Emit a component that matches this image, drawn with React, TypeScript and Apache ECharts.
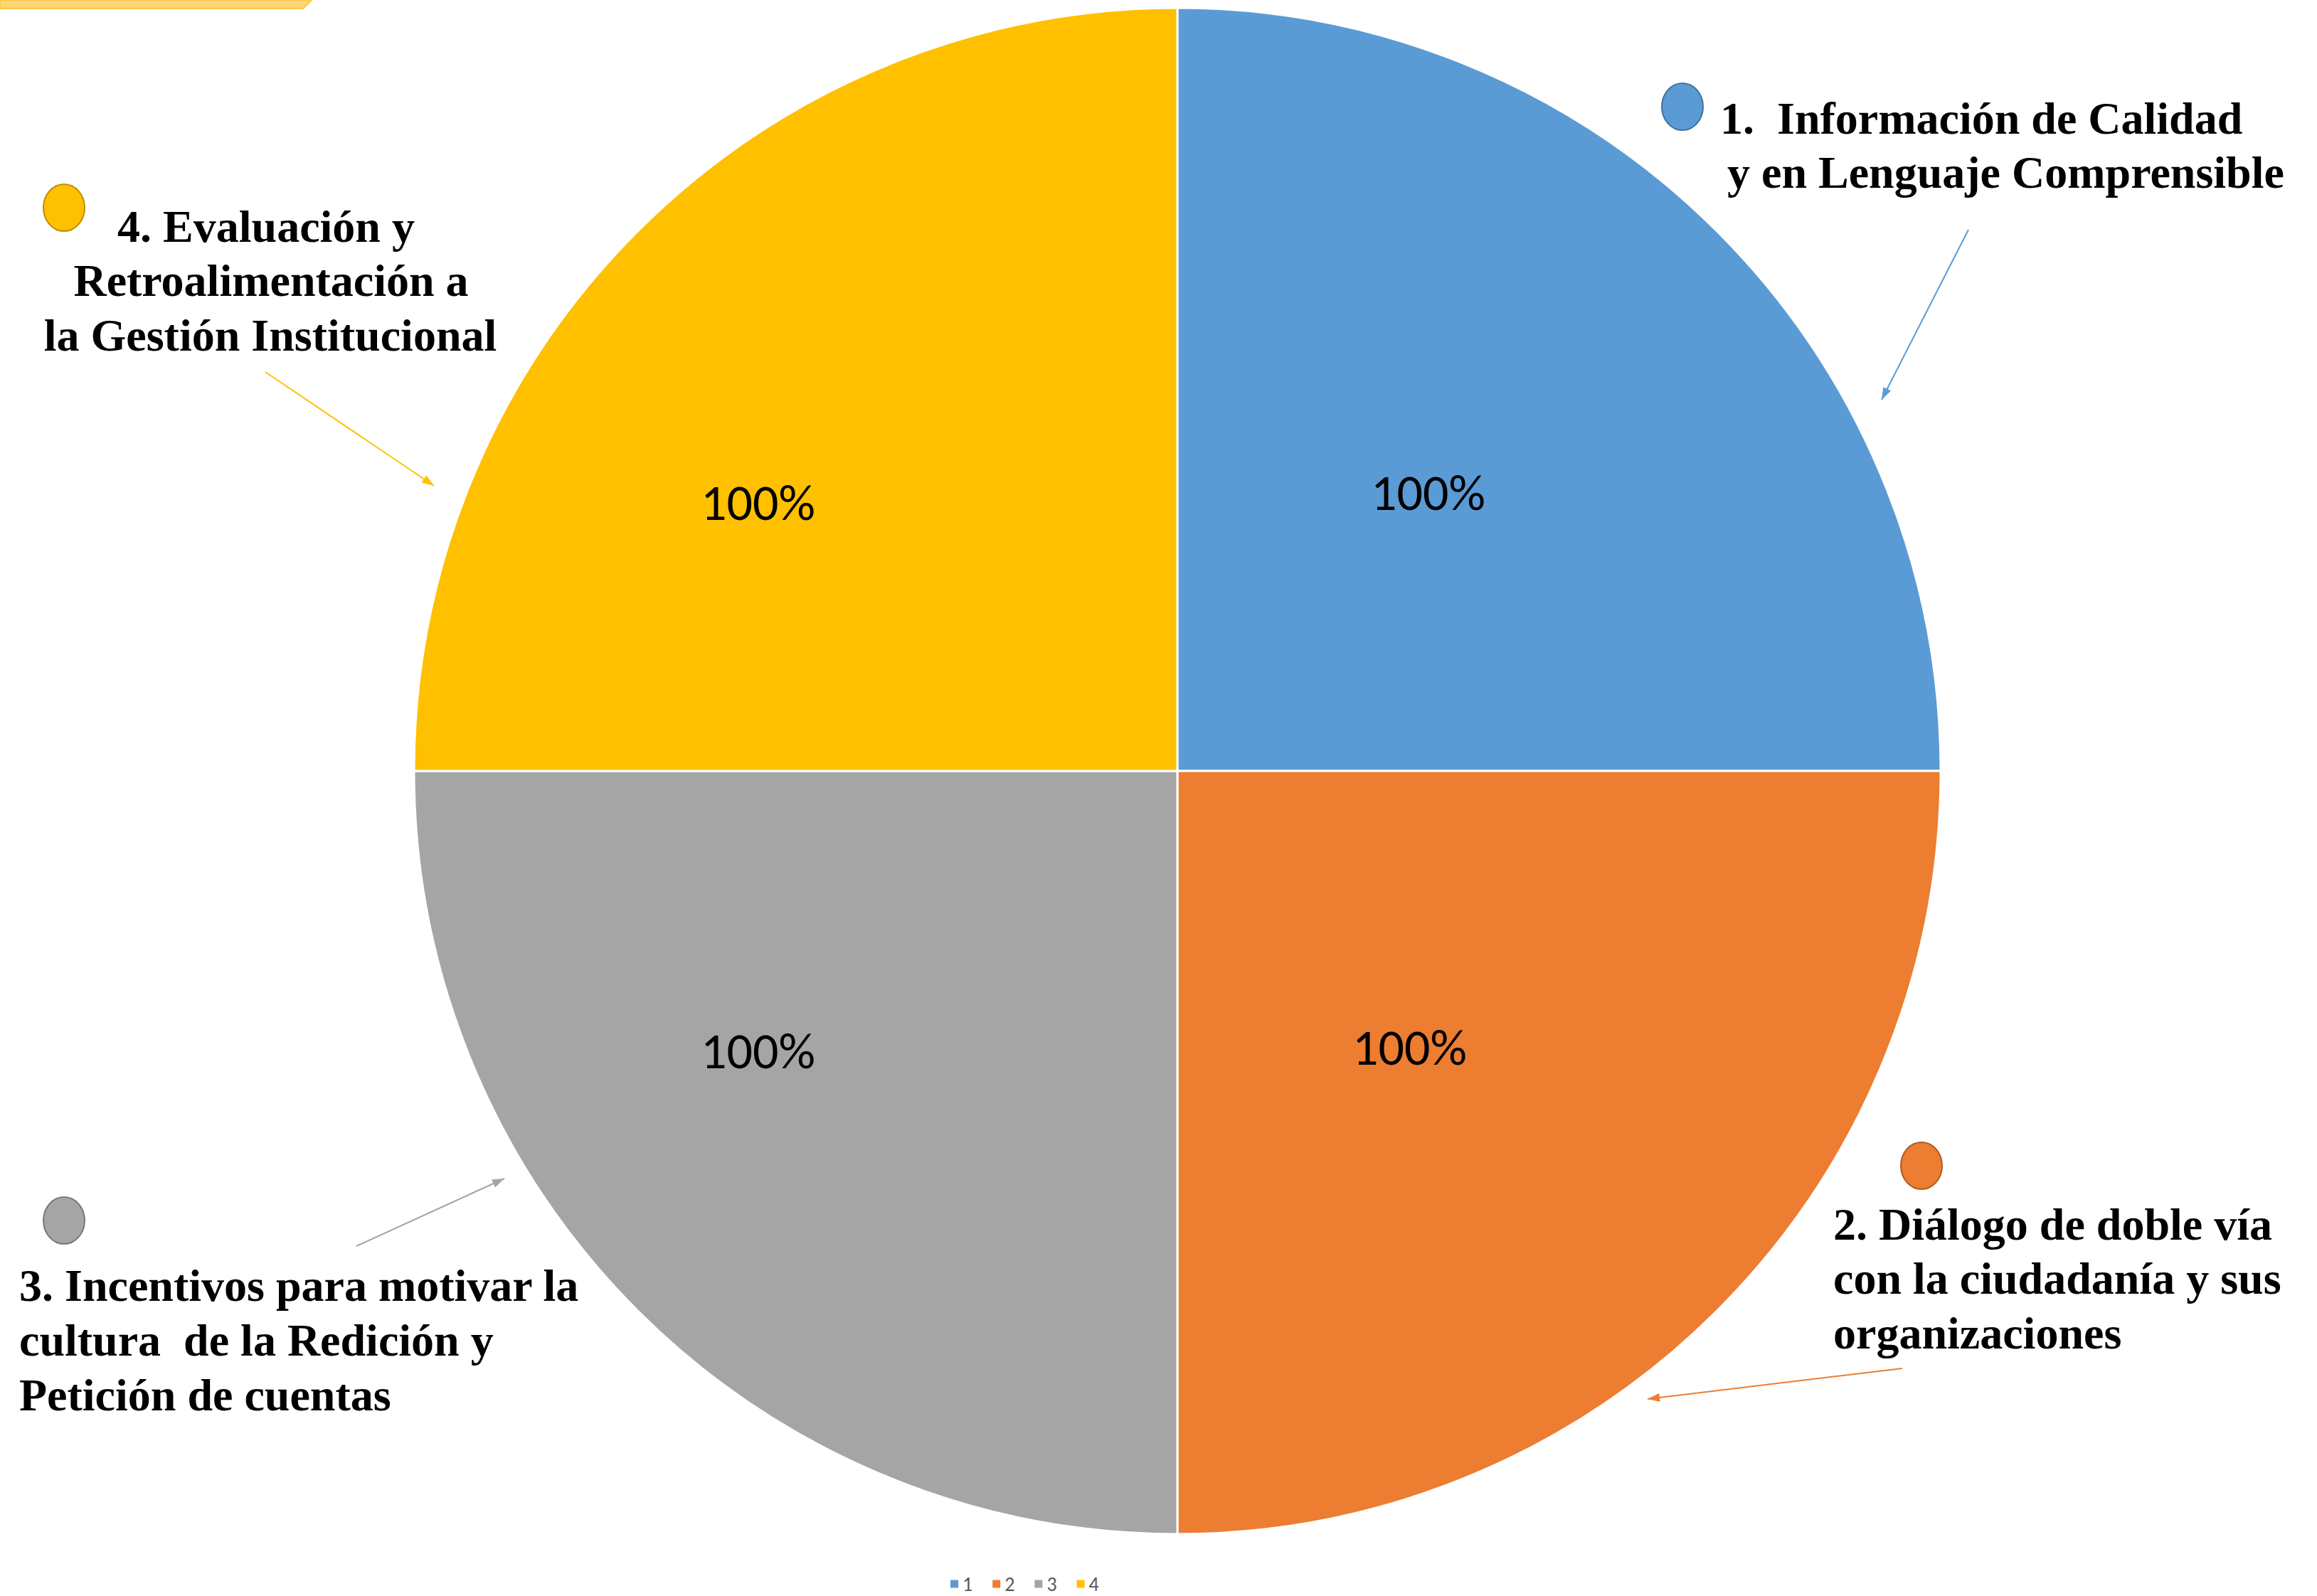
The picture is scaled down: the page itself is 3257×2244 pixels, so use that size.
import React, { useEffect, useRef } from "react";
import * as echarts from "echarts";

// ---- data ----
const categories = ["1", "2", "3", "4"];
const values = [100, 100, 100, 100];
const sliceColors = ["#5B9BD5", "#ED7D31", "#A5A5A5", "#FFC000"];
const annotationLines = [
  ["1.  Información de Calidad", "y en Lenguaje Comprensible"],
  ["2. Diálogo de doble vía", "con la ciudadanía y sus", "organizaciones"],
  ["3. Incentivos para motivar la", "cultura  de la Redición y", "Petición de cuentas"],
  ["4. Evaluación y", "Retroalimentación a", "la Gestión Institucional"],
];

// ---- layout (positions/sizes) ----
const W = 3257;
const H = 2244;
const CX = 1655;
const CY = 1084;
const R = 1073;
const labelShift = [
  [-29, -11],
  [-55, 7],
  [-208, 12],
  [-208, 3],
];
const annoLayout = [
  { ell: [2365, 150], xs: [2418, 2428], align: "left", base: [187, 263], arrow: [2767, 323, 2645, 562] },
  { ell: [2701, 1639], xs: [2577, 2577, 2577], align: "left", base: [1742, 1818, 1895], arrow: [2674, 1924, 2316, 1967] },
  { ell: [90, 1716], xs: [27, 27, 27], align: "left", base: [1828, 1905, 1982], arrow: [501, 1752, 709, 1657] },
  { ell: [90, 292], xs: [374, 381, 380], align: "center", base: [339, 415, 492], arrow: [373, 523, 610, 683] },
];
const ellStroke = ["#41719C", "#AE5A21", "#787878", "#BC8C00"];
const TEXT_FONT = 'bold 64px "Liberation Serif", "Times New Roman", serif';
const SANS = "Carlito, 'Liberation Sans', Arial, sans-serif";

function arrowHead(x1: number, y1: number, x2: number, y2: number, len = 17, half = 6) {
  const dx = x2 - x1;
  const dy = y2 - y1;
  const d = Math.sqrt(dx * dx + dy * dy);
  const ux = dx / d;
  const uy = dy / d;
  const bx = x2 - ux * len;
  const by = y2 - uy * len;
  return [
    [x2, y2],
    [bx - uy * half, by + ux * half],
    [bx + uy * half, by - ux * half],
  ];
}

export default function App() {
  const ref = useRef<HTMLDivElement>(null);
  useEffect(() => {
    document.body.style.margin = "0";
    const chart = echarts.init(ref.current!, null, { renderer: "svg" });

    const graphics: any[] = [
      {
        type: "polygon",
        shape: { points: [[0, 0], [438, 0], [426, 12], [0, 12]] },
        style: { fill: "#FFD57C", stroke: "#FFC83D", lineWidth: 2 },
      },
    ];
    annoLayout.forEach((a, i) => {
      graphics.push({
        type: "ellipse",
        shape: { cx: a.ell[0], cy: a.ell[1], rx: 29, ry: 33 },
        style: { fill: sliceColors[i], stroke: ellStroke[i], lineWidth: 2 },
      });
      annotationLines[i].forEach((line, j) => {
        graphics.push({
          type: "text",
          x: a.xs[j],
          y: a.base[j] - 21,
          style: {
            text: line,
            font: TEXT_FONT,
            fill: "#000000",
            textAlign: a.align,
            textVerticalAlign: "middle",
          },
        });
      });
      const [x1, y1, x2, y2] = a.arrow;
      graphics.push({
        type: "line",
        shape: { x1, y1, x2, y2 },
        style: { stroke: sliceColors[i], lineWidth: 2 },
      });
      graphics.push({
        type: "polygon",
        shape: { points: arrowHead(x1, y1, x2, y2) },
        style: { fill: sliceColors[i] },
      });
    });

    chart.setOption({
      animation: false,
      backgroundColor: "#ffffff",
      color: sliceColors,
      legend: {
        data: categories,
        left: 1329,
        top: 2208,
        icon: "rect",
        itemWidth: 13,
        itemHeight: 13,
        itemGap: 26,
        textStyle: { fontSize: 28, lineHeight: 26, color: "#595959", fontFamily: SANS },
      },
      series: [
        {
          type: "pie",
          center: [CX, CY],
          radius: [0, R],
          startAngle: 90,
          clockwise: true,
          data: categories.map((c, i) => ({ name: c, value: values[i] })),
          itemStyle: { borderColor: "#ffffff", borderWidth: 3 },
          label: {
            show: true,
            position: "inside",
            rotate: 0,
            formatter: "{c}%",
            fontSize: 72,
            color: "#000000",
            fontFamily: SANS,
          },
          labelLine: { show: false },
          labelLayout: (p: any) => ({ dx: labelShift[p.dataIndex][0], dy: labelShift[p.dataIndex][1] }),
          emphasis: { disabled: true },
        },
      ],
      graphic: graphics,
    });
    return () => chart.dispose();
  }, []);
  return <div ref={ref} style={{ width: W, height: H }} />;
}
